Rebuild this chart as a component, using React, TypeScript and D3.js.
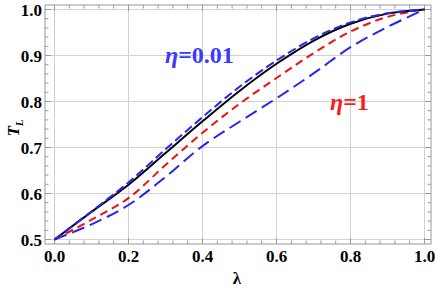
import React from "react";
import * as d3 from "d3";

const lambdas = [0, 0.1, 0.2, 0.3, 0.4, 0.5, 0.6, 0.7, 0.8, 0.9, 1.0];
const blackSolid = [0.5, 0.56, 0.619, 0.688, 0.757, 0.823, 0.882, 0.932, 0.969, 0.991, 1.0];
const blueShort = [0.5, 0.561, 0.624, 0.696, 0.766, 0.832, 0.889, 0.937, 0.972, 0.992, 1.0];
const redDashed = [0.5, 0.543, 0.59, 0.662, 0.732, 0.795, 0.851, 0.905, 0.952, 0.984, 1.0];
const blueLong = [0.5, 0.533, 0.575, 0.636, 0.703, 0.756, 0.807, 0.861, 0.918, 0.962, 1.0];

const xTicks = [0, 0.2, 0.4, 0.6, 0.8, 1.0];
const yTicks = [0.5, 0.6, 0.7, 0.8, 0.9, 1.0];

const W = 436, H = 288;

export default function App() {
  const x = d3.scaleLinear().domain([0, 1]).range([54.5, 424.5]);
  const y = d3.scaleLinear().domain([0.5, 1]).range([239.5, 9.5]);
  const frame = { l: 45, r: 431, t: 5, b: 244 };
  const line = d3.line<number>()
    .x((_, i) => x(lambdas[i]))
    .y((d) => y(d))
    .curve(d3.curveCatmullRom.alpha(0.5));

  const xMinor = d3.range(-0.2, 1.2001, 0.04).filter((v) => x(v) > frame.l && x(v) < frame.r);
  const yMinor = d3.range(0.48, 1.02, 0.02).filter((v) => y(v) > frame.t && y(v) < frame.b);
  const gridC = "#d2d2d2";
  const frameC = "#9a9a9a";
  const font = "Liberation Serif";

  return (
    <svg width={W} height={H} style={{ position: "absolute", left: 0, top: 0 }}>
      <rect x={0} y={0} width={W} height={H} fill="#fff" />
      {xTicks.map((v) => (
        <line key={"gx" + v} x1={x(v)} x2={x(v)} y1={frame.t} y2={frame.b} stroke={gridC} strokeWidth={1} />
      ))}
      {yTicks.map((v) => (
        <line key={"gy" + v} x1={frame.l} x2={frame.r} y1={y(v)} y2={y(v)} stroke={gridC} strokeWidth={1} />
      ))}
      {xMinor.map((v, i) => {
        const major = xTicks.some((t) => Math.abs(t - v) < 1e-6);
        const len = major ? 6 : 3.5;
        return (
          <g key={"xt" + i}>
            <line x1={x(v)} x2={x(v)} y1={frame.b} y2={frame.b - len} stroke={frameC} />
            <line x1={x(v)} x2={x(v)} y1={frame.t} y2={frame.t + len} stroke={frameC} />
          </g>
        );
      })}
      {yMinor.map((v, i) => {
        const major = yTicks.some((t) => Math.abs(t - v) < 1e-6);
        const len = major ? 6 : 3.5;
        return (
          <g key={"yt" + i}>
            <line x1={frame.l} x2={frame.l + len} y1={y(v)} y2={y(v)} stroke={frameC} />
            <line x1={frame.r} x2={frame.r - len} y1={y(v)} y2={y(v)} stroke={frameC} />
          </g>
        );
      })}
      <rect x={frame.l} y={frame.t} width={frame.r - frame.l} height={frame.b - frame.t} fill="none" stroke={frameC} strokeWidth={1} />

      <path d={line(blueLong) || ""} fill="none" stroke="#2626f0" strokeWidth={2} strokeDasharray="13 6" />
      <path d={line(redDashed) || ""} fill="none" stroke="#f01010" strokeWidth={2} strokeDasharray="8 5" />
      <path d={line(blackSolid) || ""} fill="none" stroke="#000" strokeWidth={2} />
      <path d={line(blueShort) || ""} fill="none" stroke="#2626f0" strokeWidth={2} strokeDasharray="9 4" />

      {xTicks.map((v) => (
        <text key={"xl" + v} x={x(v)} y={262} textAnchor="middle" fontFamily={font} fontWeight="bold" fontSize={17}>
          {v.toFixed(1)}
        </text>
      ))}
      {yTicks.map((v) => (
        <text key={"yl" + v} x={42} y={y(v) + 6} textAnchor="end" fontFamily={font} fontWeight="bold" fontSize={17}>
          {v.toFixed(1)}
        </text>
      ))}
      <text x={237} y={284} textAnchor="middle" fontFamily={font} fontWeight="bold" fontSize={17}>λ</text>
      <text transform="translate(19,128) rotate(-90)" textAnchor="middle" fontFamily={font} fontWeight="bold" fontSize={17}>
        <tspan fontStyle="italic">T</tspan>
        <tspan fontStyle="italic" fontSize={11} dy={4}>L</tspan>
      </text>

      <text x={165} y={63} fontFamily={font} fontWeight="bold" fontSize={24} fill="#3a3aff">
        <tspan fontStyle="italic">η</tspan>=0.01
      </text>
      <text x={330} y={110} fontFamily={font} fontWeight="bold" fontSize={24} fill="#ff1a1a">
        <tspan fontStyle="italic">η</tspan>=1
      </text>
    </svg>
  );
}
